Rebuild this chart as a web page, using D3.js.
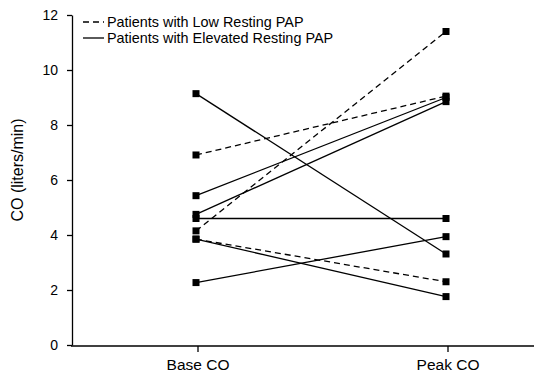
<!DOCTYPE html>
<html>
<head>
<meta charset="utf-8">
<script src="https://cdn.jsdelivr.net/npm/d3@7"></script>
<style>
    body { margin: 0; background: #fff; }
    svg { font-family: "Liberation Sans", Arial, Helvetica, sans-serif; }
    .axis path, .axis line { stroke: #000; stroke-width: 1.3; }
    .axis text { fill: #000; }
    .link { fill: none; stroke: #000; stroke-width: 1.3; }
    .link.dashed { stroke-dasharray: 6 4; }
</style>
</head>
<body>
<svg id="chart" width="534" height="376"></svg>
<script>

// categories on the x axis
const categories = ["Base CO", "Peak CO"];

// patients with low resting PAP (dashed)
const lowBase = [4.15, 6.91, 3.85];
const lowPeak = [11.4, 9.05, 2.3];

// patients with elevated resting PAP (solid)
const elevatedBase = [9.14, 5.43, 4.75, 4.6, 3.85, 2.27];
const elevatedPeak = [3.31, 9.0, 8.85, 4.6, 1.76, 3.94];

const yTicks = [0, 2, 4, 6, 8, 10, 12];

const legendLabels = ["Patients with Low Resting PAP", "Patients with Elevated Resting PAP"];

class SlopeChart {

    constructor(svg) {

        this.svg = svg;
        this.width = +svg.attr("width");
        this.height = +svg.attr("height");

        this.x = d3.scalePoint()
            .domain(categories)
            .range([196, 446]);

        this.y = d3.scaleLinear()
            .domain([0, 12])
            .range([345, 15]);

        this.links = [];
        lowBase.forEach((v, i) => this.links.push({ dashed: true, values: [v, lowPeak[i]] }));
        elevatedBase.forEach((v, i) => this.links.push({ dashed: false, values: [v, elevatedPeak[i]] }));

        this.drawAxes();
        this.drawLinks();
        this.drawMarkers();
        this.drawLegend();

    }

    drawAxes() {

        let yAxis = this.svg
            .append("g")
                .classed("axis", true)
                .attr("transform", "translate(72,0)")
                .call(d3.axisLeft(this.y)
                    .tickValues(yTicks)
                    .tickSize(5)
                    .tickSizeOuter(0)
                    .tickPadding(9));

        yAxis.selectAll("text")
            .style("font-size", "14px");

        // x axis runs to the right edge of the picture
        let xAxis = this.svg
            .append("g")
                .classed("axis", true)
                .attr("transform", "translate(0,346)");

        xAxis.append("line")
            .attr("x1", 71)
            .attr("x2", this.width)
            .attr("y1", 0)
            .attr("y2", 0);

        let ticks = xAxis.selectAll("g.tick")
            .data(categories)
            .enter()
            .append("g")
                .classed("tick", true)
                .attr("transform", d => `translate(${this.x(d) + 2},0)`);

        ticks.append("line")
            .attr("y2", 6);

        ticks.append("text")
            .attr("y", 24)
            .attr("text-anchor", "middle")
            .style("font-size", "15.5px")
            .text(d => d);

        this.svg
            .append("text")
                .attr("transform", "translate(23,170) rotate(-90)")
                .attr("text-anchor", "middle")
                .style("font-size", "16px")
                .text("CO (liters/min)");

    }

    drawLinks() {

        this.svg
            .append("g")
                .attr("id", "links")
                .selectAll("path.link")
                .data(this.links)
                .enter()
                .append("path")
                    .classed("link", true)
                    .classed("dashed", d => d.dashed)
                    .attr("d", d => d3.line()
                        .x((v, i) => this.x(categories[i]))
                        .y(v => this.y(v))(d.values));

    }

    drawMarkers() {

        let size = 7;
        let points = [];
        this.links.forEach(link => {
            link.values.forEach((v, i) => points.push({ cat: categories[i], value: v }));
        });

        this.svg
            .append("g")
                .attr("id", "markers")
                .selectAll("rect")
                .data(points)
                .enter()
                .append("rect")
                    .attr("x", d => this.x(d.cat) - size / 2)
                    .attr("y", d => this.y(d.value) - size / 2)
                    .attr("width", size)
                    .attr("height", size)
                    .attr("fill", "#000");

    }

    drawLegend() {

        let legend = this.svg
            .append("g")
                .attr("id", "legend")
                .selectAll("g")
                .data(legendLabels)
                .enter()
                .append("g")
                    .attr("transform", (d, i) => `translate(83,${22 + i * 16})`);

        legend.append("line")
            .classed("link", true)
            .classed("dashed", (d, i) => i === 0)
            .attr("x1", 0)
            .attr("x2", 21);

        legend.append("text")
            .attr("x", 24)
            .attr("dy", "0.36em")
            .style("font-size", "14.4px")
            .text(d => d);

    }

}

new SlopeChart(d3.select("#chart"));

</script>
</body>
</html>
